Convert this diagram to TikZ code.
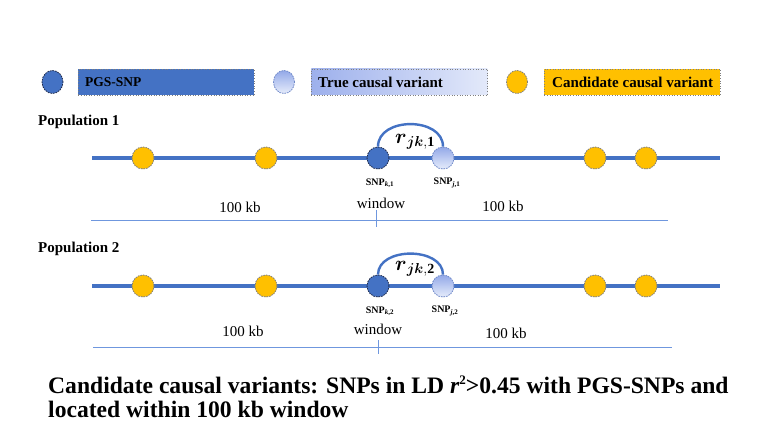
\documentclass[tikz,border=0pt]{standalone}
\usepackage{amsmath}
\usepackage{fontspec}
\setmainfont{Liberation Serif}
\usetikzlibrary{calc,shapes.geometric}
\definecolor{pblue}{HTML}{4472C4}
\definecolor{pdark}{HTML}{1F2A4A}
\definecolor{ttop}{HTML}{93A9E8}
\definecolor{tbot}{HTML}{E6ECFB}
\definecolor{tborder}{HTML}{6F88C8}
\definecolor{tleft}{HTML}{9DB0EC}
\definecolor{tright}{HTML}{E3E9FA}
\definecolor{cyel}{HTML}{FFC000}
\definecolor{cgray}{HTML}{7F7F7F}
\definecolor{wblue}{HTML}{6F97DE}
\begin{document}
\begin{tikzpicture}[x=1pt,y=-1pt,
  snp/.style={circle, minimum size=22pt, inner sep=0pt, line width=0.8pt, dash pattern=on 1.6pt off 1pt},
  legsnp/.style={ellipse, minimum width=21pt, minimum height=23pt, inner sep=0pt, line width=0.8pt, dash pattern=on 1.6pt off 1pt},
  pgs/.style={fill=pblue, draw=pdark},
  tcv/.style={draw=tborder, top color=ttop, bottom color=tbot},
  ccv/.style={fill=cyel, draw=cgray},
  chrom/.style={draw=pblue, line width=3.2pt},
  winline/.style={draw=wblue, line width=0.8pt},
  arcst/.style={draw=pblue, line width=2.4pt},
  legbox/.style={draw=cgray, line width=0.6pt, dotted, minimum height=26pt, minimum width=176pt, anchor=west, inner sep=0pt},
  legtext/.style={anchor=west, inner sep=0pt, font=\bfseries\fontsize{15}{15}\selectfont},
  poplab/.style={anchor=west, inner sep=0pt, font=\bfseries\fontsize{15}{15}\selectfont},
  snplab/.style={inner sep=0pt, font=\bfseries\fontsize{10}{10}\selectfont},
  lab/.style={inner sep=0pt, font=\fontsize{15}{15}\selectfont},
  rlab/.style={inner sep=0pt, font=\fontsize{20}{20}\selectfont},
  caplab/.style={anchor=base west, inner sep=0pt, font=\bfseries\fontsize{23.6}{24}\selectfont}
]
\useasboundingbox[fill=white] (0,0) rectangle (784,438);

% legend
\node[legsnp, pgs] (lg1) at (52.5,82) {};
\node[legbox, fill=pblue] (lb1) at (78,82) {};
\node[legtext, font=\bfseries\fontsize{13.5}{13.5}\selectfont] (lt1) at (85,82) {PGS-SNP};
\node[legsnp, tcv] (lg2) at (284,82) {};
\node[legbox, left color=tleft, right color=tright] (lb2) at (311,82) {};
\node[legtext] (lt2) at (318,82) {True causal variant};
\node[legsnp, ccv] (lg3) at (517,82) {};
\node[legbox, fill=cyel] (lb3) at (544,82) {};
\node[legtext] (lt3) at (552,82) {Candidate causal variant};

% population 1
\node[poplab] (pop1) at (38,122) {Population 1};
\coordinate (a1) at (92,158);
\coordinate (b1) at (720,158);
\draw[chrom] (a1) -- (b1);
\node[snp, ccv] (c11) at (143,158) {};
\node[snp, ccv] (c12) at (266,158) {};
\node[snp, pgs] (k1) at (378,158) {};
\node[snp, tcv] (j1) at (443,158) {};
\node[snp, ccv] (c13) at (595,158) {};
\node[snp, ccv] (c14) at (646,158) {};
\draw[arcst] (k1.north) .. controls ($(k1.north)+(0,-30)$) and ($(j1.north)+(0,-30)$) .. (j1.north);
\node[rlab] (r1) at (415,142) {$\boldsymbol{r}_{\boldsymbol{jk},\mathbf{1}}$};
\node[snplab] (sk1) at (380,183) {SNP\textsubscript{\textit{k},1}};
\node[snplab] (sj1) at (447,183) {SNP\textsubscript{\textit{j},1}};
\node[lab] (w1) at (381,203) {window};
\node[lab] (kl1) at (240,207) {100 kb};
\node[lab] (kr1) at (503,206) {100 kb};
\coordinate (wl1) at (91,220);
\coordinate (wr1) at (668,220);
\draw[winline] (wl1) -- (wr1);
\coordinate (t1a) at (376,210);
\coordinate (t1b) at (376,227);
\draw[winline] (t1a) -- (t1b);

% population 2
\node[poplab] (pop2) at (38,249) {Population 2};
\coordinate (a2) at (92,286);
\coordinate (b2) at (720,286);
\draw[chrom] (a2) -- (b2);
\node[snp, ccv] (c21) at (143,286) {};
\node[snp, ccv] (c22) at (266,286) {};
\node[snp, pgs] (k2) at (378,286) {};
\node[snp, tcv] (j2) at (443,286) {};
\node[snp, ccv] (c23) at (595,286) {};
\node[snp, ccv] (c24) at (646,286) {};
\draw[arcst] (k2.north) .. controls ($(k2.north)+(0,-28)$) and ($(j2.north)+(0,-28)$) .. (j2.north);
\node[rlab] (r2) at (415,269) {$\boldsymbol{r}_{\boldsymbol{jk},\mathbf{2}}$};
\node[snplab] (sk2) at (380,311) {SNP\textsubscript{\textit{k},2}};
\node[snplab] (sj2) at (445,311) {SNP\textsubscript{\textit{j},2}};
\node[lab] (w2) at (378,329) {window};
\node[lab] (kl2) at (243,331) {100 kb};
\node[lab] (kr2) at (506,333) {100 kb};
\coordinate (wl2) at (93,347);
\coordinate (wr2) at (672,347);
\draw[winline] (wl2) -- (wr2);
\coordinate (t2a) at (378,340);
\coordinate (t2b) at (378,354);
\draw[winline] (t2a) -- (t2b);

% caption
\node[caplab] (cap1) at (48,393) {Candidate causal variants: SNPs in LD \textit{r}\raisebox{0.38em}{\fontsize{13}{13}\selectfont 2}>0.45 with PGS-SNPs and};
\node[caplab] (cap2) at (48,417) {located within 100 kb window};
\end{tikzpicture}
\end{document}
